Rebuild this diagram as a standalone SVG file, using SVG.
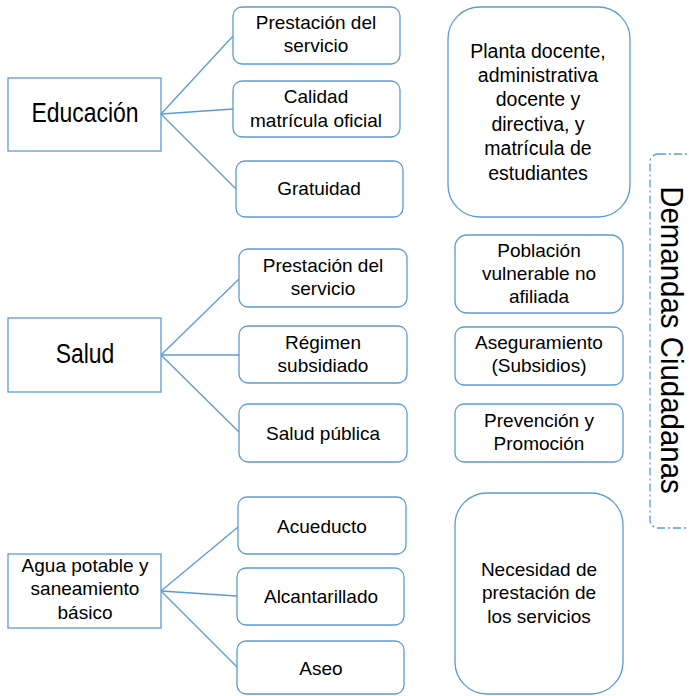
<svg xmlns="http://www.w3.org/2000/svg" width="689" height="696" viewBox="0 0 689 696">
<style>
.box{fill:#fff;stroke:#5B9BD5;stroke-width:1.3}
.ln{fill:none;stroke:#5B9BD5;stroke-width:1.3}
.dash{fill:none;stroke:#5B9BD5;stroke-width:1.3;stroke-dasharray:8 3 2 3}
text{font-family:"Liberation Sans",Arial,sans-serif;fill:#000;text-anchor:middle}
.big{font-size:27px}
.t{font-size:19px}
.r{font-size:19.5px}
.v{font-size:32px}
</style>
<rect width="689" height="696" fill="#fff"/>
<g id="connectors">
<line class="ln" x1="161" y1="114" x2="233" y2="36"/>
<line class="ln" x1="161" y1="114" x2="233" y2="109"/>
<line class="ln" x1="161" y1="114" x2="236" y2="189"/>
<line class="ln" x1="161" y1="355" x2="239" y2="279"/>
<line class="ln" x1="161" y1="355" x2="239" y2="355"/>
<line class="ln" x1="161" y1="355" x2="239" y2="432"/>
<line class="ln" x1="161" y1="591" x2="238" y2="527"/>
<line class="ln" x1="161" y1="591" x2="237" y2="596"/>
<line class="ln" x1="161" y1="591" x2="237" y2="667"/>
</g>
<g id="demandas">
<rect class="dash" x="650" y="154" width="60" height="374" rx="8"/>
<text class="v" transform="translate(661,340) rotate(90) scale(0.92,1)">Demandas Ciudadanas</text>
</g>
<g id="educacion">
<rect class="box" x="8" y="78" width="153" height="73"/>
<text class="big" transform="translate(85,122) scale(0.85,1)">Educación</text>
</g>
<g id="ed-prestacion">
<rect class="box" x="233" y="7" width="167" height="57" rx="9"/>
<text class="t" x="316" y="29">Prestación del</text>
<text class="t" x="316" y="52">servicio</text>
</g>
<g id="ed-calidad">
<rect class="box" x="233" y="81" width="167" height="56" rx="9"/>
<text class="t" x="316" y="103">Calidad</text>
<text class="t" x="316" y="127">matrícula oficial</text>
</g>
<g id="ed-gratuidad">
<rect class="box" x="236" y="161" width="167" height="56" rx="9"/>
<text class="t" x="319" y="195">Gratuidad</text>
</g>
<g id="ed-planta">
<rect class="box" x="448" y="7" width="182" height="210" rx="32"/>
<text class="r" x="538" y="58">Planta docente,</text>
<text class="r" x="538" y="82">administrativa</text>
<text class="r" x="538" y="106">docente y</text>
<text class="r" x="538" y="131">directiva, y</text>
<text class="r" x="538" y="155">matrícula de</text>
<text class="r" x="538" y="180">estudiantes</text>
</g>
<g id="salud">
<rect class="box" x="8" y="318" width="153" height="74"/>
<text class="big" transform="translate(85,363) scale(0.85,1)">Salud</text>
</g>
<g id="sa-prestacion">
<rect class="box" x="239" y="249" width="168" height="58" rx="9"/>
<text class="t" x="323" y="272">Prestación del</text>
<text class="t" x="323" y="295">servicio</text>
</g>
<g id="sa-regimen">
<rect class="box" x="239" y="326" width="168" height="57" rx="9"/>
<text class="t" x="323" y="349">Régimen</text>
<text class="t" x="323" y="372">subsidiado</text>
</g>
<g id="sa-publica">
<rect class="box" x="239" y="404" width="168" height="58" rx="9"/>
<text class="t" x="323" y="440">Salud pública</text>
</g>
<g id="sa-poblacion">
<rect class="box" x="455" y="235" width="168" height="78" rx="12"/>
<text class="t" x="539" y="257">Población</text>
<text class="t" x="539" y="280">vulnerable no</text>
<text class="t" x="539" y="303">afiliada</text>
</g>
<g id="sa-aseguramiento">
<rect class="box" x="455" y="327" width="168" height="58" rx="9"/>
<text class="t" x="539" y="349">Aseguramiento</text>
<text class="t" x="539" y="372">(Subsidios)</text>
</g>
<g id="sa-prevencion">
<rect class="box" x="455" y="404" width="168" height="58" rx="9"/>
<text class="t" x="539" y="427">Prevención y</text>
<text class="t" x="539" y="450">Promoción</text>
</g>
<g id="agua">
<rect class="box" x="8" y="554" width="153" height="74"/>
<text class="t" x="85" y="572">Agua potable y</text>
<text class="t" x="85" y="595">saneamiento</text>
<text class="t" x="85" y="619">básico</text>
</g>
<g id="ag-acueducto">
<rect class="box" x="238" y="497" width="168" height="57" rx="9"/>
<text class="t" x="322" y="533">Acueducto</text>
</g>
<g id="ag-alcantarillado">
<rect class="box" x="237" y="568" width="167" height="57" rx="9"/>
<text class="t" x="321" y="603">Alcantarillado</text>
</g>
<g id="ag-aseo">
<rect class="box" x="237" y="641" width="167" height="53" rx="9"/>
<text class="t" x="321" y="675">Aseo</text>
</g>
<g id="ag-necesidad">
<rect class="box" x="455" y="493" width="168" height="201" rx="32"/>
<text class="t" x="539" y="576">Necesidad de</text>
<text class="t" x="539" y="599">prestación de</text>
<text class="t" x="539" y="623">los servicios</text>
</g>
</svg>
